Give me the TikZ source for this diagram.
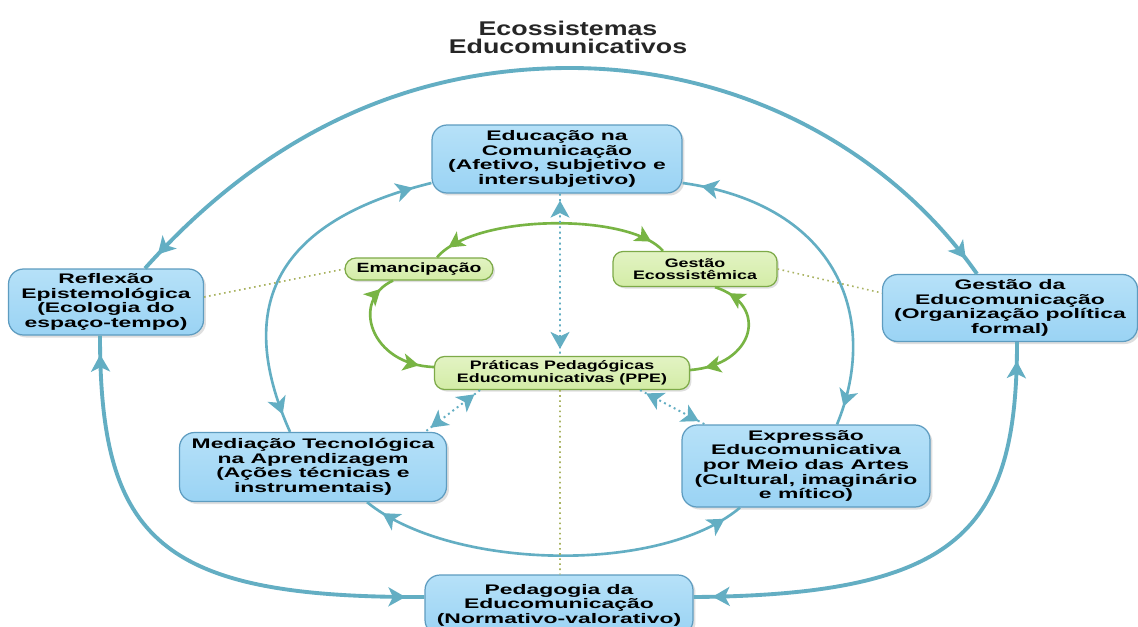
\documentclass[tikz,border=0pt]{standalone}
\usepackage{fontspec}
\setmainfont{Liberation Sans}
\newfontfamily\bxfont[FakeStretch=1.65]{Liberation Sans}
\newfontfamily\gxfont[FakeStretch=1.45]{Liberation Sans}
\newfontfamily\tlfont[FakeStretch=1.35]{Liberation Sans}
\usetikzlibrary{arrows.meta,decorations.markings,shadows}
\definecolor{bfill}{HTML}{9AD3F4}
\definecolor{bfilltop}{HTML}{B6E1F8}
\definecolor{bedge}{HTML}{5E9CC0}
\definecolor{bline}{HTML}{63AEC3}
\definecolor{gfill}{HTML}{D3ECA6}
\definecolor{gfilltop}{HTML}{E2F3C3}
\definecolor{gedge}{HTML}{7DAA48}
\definecolor{gline}{HTML}{78B444}
\definecolor{oline}{HTML}{A9B361}
\tikzset{
  BTip/.tip={Stealth[length=0.34cm,width=0.38cm,inset=0.09cm]},
  GTip/.tip={Stealth[length=0.32cm,width=0.34cm,inset=0.08cm]},
  bbox/.style={draw=bedge, line width=0.7pt, rounded corners=0.3cm,
    top color=bfilltop, bottom color=bfill,
    drop shadow={shadow xshift=0.05cm, shadow yshift=-0.05cm, opacity=0.25},
    align=center, text=black,
    font=\bxfont\fontsize{7.9}{8.3}\selectfont\bfseries, inner sep=0pt},
  gbox/.style={draw=gedge, line width=0.7pt, rounded corners=0.2cm,
    top color=gfilltop, bottom color=gfill,
    drop shadow={shadow xshift=0.04cm, shadow yshift=-0.04cm, opacity=0.25},
    align=center, text=black,
    font=\gxfont\fontsize{7}{6.4}\selectfont\bfseries, inner sep=0pt},
  outer/.style={draw=bline, line width=2.2pt},
  inner/.style={draw=bline, line width=1.5pt},
  grn/.style={draw=gline, line width=1.5pt},
  bdot/.style={draw=bline, line width=1.1pt, dotted},
  odot/.style={draw=oline, line width=0.9pt, dotted},
  biB/.style={postaction={decorate}, decoration={markings,
    mark=at position 0.38cm with {\arrowreversed{BTip}},
    mark=at position -0.38cm with {\arrow{BTip}}}},
  biG/.style={postaction={decorate}, decoration={markings,
    mark=at position 0.3cm with {\arrowreversed{GTip}},
    mark=at position -0.3cm with {\arrow{GTip}}}},
  biD/.style={postaction={decorate}, decoration={markings,
    mark=at position 0.14cm with {\arrowreversed{BTip}},
    mark=at position -0.14cm with {\arrow{BTip}}}},
}
\begin{document}
\begin{tikzpicture}[x=0.02cm,y=-0.02cm]
\fill[white] (0,0) rectangle (1138,626);
\useasboundingbox (0,0) rectangle (1138,626);

% title
\node[font=\tlfont\fontsize{11.3}{10.2}\selectfont\bfseries, align=center, text=black!85] (title) at (568,37) {Ecossistemas\\Educomunicativos};

% blue boxes
\node[bbox, minimum width=5cm, minimum height=1.36cm] (EC) at (557,159) {Educação na\\Comunicação\\(Afetivo, subjetivo e\\intersubjetivo)};
\node[bbox, minimum width=3.9cm, minimum height=1.32cm] (RE) at (106,302) {Reflexão\\Epistemológica\\(Ecologia do\\espaço-tempo)};
\node[bbox, minimum width=5.1cm, minimum height=1.34cm] (GE) at (1010,308) {Gestão da\\Educomunicação\\(Organização política\\formal)};
\node[bbox, minimum width=5.34cm, minimum height=1.38cm] (MT) at (313,467) {Mediação Tecnológica\\na Aprendizagem\\(Ações técnicas e\\instrumentais)};
\node[bbox, minimum width=4.96cm, minimum height=1.64cm] (EX) at (806,466) {Expressão\\Educomunicativa\\por Meio das Artes\\(Cultural, imaginário\\e mítico)};
\node[bbox, minimum width=5.36cm, minimum height=1.2cm] (PE) at (559,605) {Pedagogia da\\Educomunicação\\(Normativo-valorativo)};

% green boxes
\node[gbox, minimum width=2.96cm, minimum height=0.44cm, rounded corners=0.22cm,
  font=\gxfont\fontsize{7.6}{7}\selectfont\bfseries] (Em) at (419,269) {Emancipação};
\node[gbox, minimum width=3.28cm, minimum height=0.7cm] (GEco) at (695,269) {Gestão\\Ecossistêmica};
\node[gbox, minimum width=5.1cm, minimum height=0.66cm] (PPE) at (562,373) {Práticas Pedagógicas\\Educomunicativas (PPE)};

% outer blue loop
\coordinate (top) at (570,68);
\draw[outer,biB] ([xshift=0.78cm]RE.north) .. controls (260,140) and (400,68) .. (top) .. controls (740,68) and (890,150) .. ([xshift=-0.66cm]GE.north);
\draw[outer,biB] ([xshift=-0.12cm]RE.south) .. controls (100,540) and (160,598) .. ([yshift=0.16cm]PE.west);
\draw[outer,biB] ([xshift=0.14cm]GE.south) .. controls (1017,530) and (960,595) .. ([yshift=0.16cm]PE.east);

% inner blue loop
\draw[inner,biB] ([yshift=-0.48cm]EC.west) .. controls (260,225) and (240,320) .. ([xshift=-0.46cm]MT.north);
\draw[inner,biB] ([yshift=-0.48cm]EC.east) .. controls (840,205) and (880,320) .. ([xshift=0.62cm]EX.north);
\draw[inner,biB] ([xshift=1.08cm]MT.south) .. controls (450,570) and (660,575) .. ([xshift=-1.32cm]EX.south);

% green loop
\draw[grn,biG] ([xshift=0.36cm]Em.north) .. controls (475,213) and (630,213) .. ([xshift=-0.64cm]GEco.north);
\draw[grn,biG] ([xshift=-0.52cm]Em.south) .. controls (350,300) and (370,365) .. ([yshift=0.12cm]PPE.west);
\draw[grn,biG] ([xshift=0.4cm]GEco.south) .. controls (770,305) and (755,365) .. ([yshift=0.06cm]PPE.east);

% blue dotted
\draw[bdot,biD] ([xshift=0.06cm]EC.south) -- ([xshift=-0.04cm]PPE.north);
\draw[bdot,biD] ([xshift=-1.64cm]PPE.south) -- ([xshift=2.24cm]MT.north);
\draw[bdot,biD] ([xshift=1.56cm]PPE.south) -- ([xshift=-2.02cm]EX.north);

% olive dotted
\draw[odot] ([yshift=0.1cm]RE.east) -- (Em.west);
\draw[odot] (GEco.east) -- ([yshift=0.3cm]GE.west);
\draw[odot] ([xshift=-0.04cm]PPE.south) -- ([xshift=0.02cm]PE.north);
\end{tikzpicture}
\end{document}
